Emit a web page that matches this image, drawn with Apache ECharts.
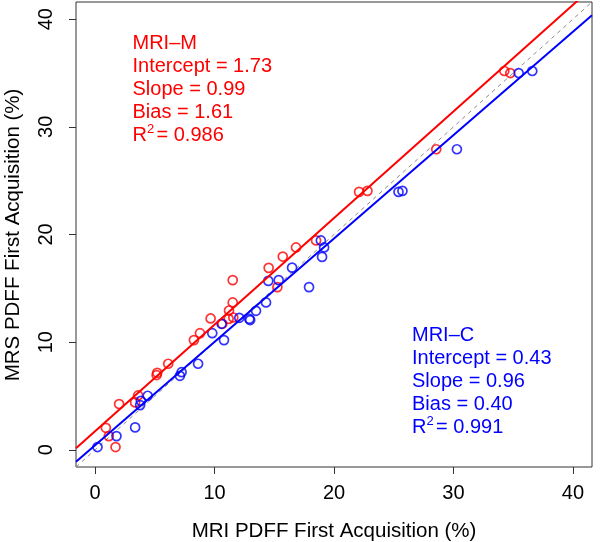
<!DOCTYPE html>
<html>
<head>
<meta charset="utf-8">
<script src="https://cdn.jsdelivr.net/npm/echarts@6/dist/echarts.min.js"></script>
<style>
html,body{margin:0;padding:0;background:#fff;}
#chart{width:600px;height:542px;}
</style>
</head>
<body>
<div id="chart"></div>
<script>
// MRI-M (red): MRI PDFF (x) vs MRS PDFF (y)
const mriM_x = [0.90, 1.15, 1.71, 2.01, 3.35, 3.60, 5.15, 5.20, 6.12, 8.27, 8.78, 9.67, 10.65, 11.18, 11.57, 11.21, 11.52, 11.52, 14.53, 15.26, 15.71, 16.82, 18.50, 22.10, 22.80, 28.56, 34.26, 34.76];
const mriM_y = [2.04, 1.27, 0.25, 4.25, 4.40, 5.05, 6.94, 7.15, 7.99, 10.19, 10.83, 12.20, 11.70, 12.16, 12.29, 12.94, 13.69, 15.76, 16.90, 15.11, 17.95, 18.80, 19.45, 23.96, 24.05, 27.92, 35.19, 35.00];
// MRI-C (blue)
const mriC_x = [0.20, 1.79, 3.35, 3.77, 3.83, 4.40, 7.10, 7.24, 8.62, 10.79, 9.81, 10.59, 12.07, 12.91, 12.98, 13.47, 14.31, 14.50, 15.37, 17.91, 16.49, 19.00, 19.17, 18.90, 25.40, 25.73, 30.29, 35.46, 36.60];
const mriC_y = [0.25, 1.27, 2.08, 4.15, 4.55, 5.02, 6.87, 7.21, 7.99, 10.19, 10.83, 11.70, 12.26, 12.16, 12.05, 12.91, 13.69, 15.69, 15.76, 15.11, 16.92, 17.92, 18.80, 19.45, 23.96, 24.05, 27.92, 35.00, 35.19];

const fitNames = ['MRI\u2013M', 'MRI\u2013C'];
const fitIntercept = [1.73, 0.43];
const fitSlope = [0.99, 0.96];
const fitBias = ['1.61', '0.40'];
const fitR2 = ['0.986', '0.991'];
const fitInterceptLabel = ['1.73', '0.43'];
const fitSlopeLabel = ['0.99', '0.96'];

const tickValues = [0, 10, 20, 30, 40];
const axisMin = -1.6, axisMax = 41.6;

const xTitle = 'MRI PDFF First Acquisition (%)';
const yTitle = 'MRS PDFF First Acquisition (%)';

const FONT = '"Liberation Sans", Arial, Helvetica, sans-serif';
const RED = '#ff0000', BLUE = '#0000ff';

function zip(xs, ys) { return xs.map((x, i) => [x, ys[i]]); }
function fitLine(a, b) { return [[axisMin, a + b * axisMin], [axisMax, a + b * axisMax]]; }

const chart = echarts.init(document.getElementById('chart'), null, {renderer: 'canvas'});

function annot(x, yStart, color, idx) {
  const dy = 23;
  const els = [];
  const f = '20px ' + FONT;
  const lines = [fitNames[idx], 'Intercept = ' + fitInterceptLabel[idx], 'Slope = ' + fitSlopeLabel[idx], 'Bias = ' + fitBias[idx]];
  lines.forEach((t, i) => {
    els.push({type: 'text', x: x, y: yStart + dy * i, style: {text: t, fill: color, font: f, align: 'left', verticalAlign: 'middle'}});
  });
  const yR = yStart + dy * 4;
  els.push({type: 'text', x: x, y: yR, style: {text: 'R', fill: color, font: f, align: 'left', verticalAlign: 'middle'}});
  els.push({type: 'text', x: x + 14.5, y: yR - 6, style: {text: '2', fill: color, font: '13px ' + FONT, align: 'left', verticalAlign: 'middle'}});
  els.push({type: 'text', x: x + 24, y: yR, style: {text: '= ' + fitR2[idx], fill: color, font: f, align: 'left', verticalAlign: 'middle'}});
  return els;
}

const option = {
  backgroundColor: '#fff',
  animation: false,
  grid: {left: 76, right: 8, top: 2, bottom: 75, show: true, borderColor: '#333', borderWidth: 1, backgroundColor: 'transparent'},
  xAxis: {
    type: 'value', min: axisMin, max: axisMax, position: 'bottom',
    axisLine: {show: false, onZero: false},
    splitLine: {show: false},
    axisTick: {show: true, inside: false, length: 7, lineStyle: {color: '#333', width: 1}, customValues: tickValues},
    axisLabel: {show: true, margin: 16, color: '#000', fontSize: 20, fontFamily: FONT, customValues: tickValues}
  },
  yAxis: {
    type: 'value', min: axisMin, max: axisMax, position: 'left',
    axisLine: {show: false, onZero: false},
    splitLine: {show: false},
    axisTick: {show: true, inside: false, length: 7, lineStyle: {color: '#333', width: 1}, customValues: tickValues},
    axisLabel: {show: true, margin: 20, rotate: 90, color: '#000', fontSize: 20, fontFamily: FONT, customValues: tickValues}
  },
  series: [
    {type: 'line', data: fitLine(0, 1), symbol: 'none', clip: true, silent: true,
     lineStyle: {color: '#8a8a8a', width: 1, type: [4, 4]}, z: 1},
    {type: 'scatter', data: zip(mriM_x, mriM_y), symbol: 'circle', symbolSize: 9,
     itemStyle: {color: 'rgba(0,0,0,0)', borderColor: RED, borderWidth: 1.7}, z: 2},
    {type: 'scatter', data: zip(mriC_x, mriC_y), symbol: 'circle', symbolSize: 9,
     itemStyle: {color: 'rgba(0,0,0,0)', borderColor: BLUE, borderWidth: 1.7}, z: 2},
    {type: 'line', data: fitLine(fitIntercept[0], fitSlope[0]), symbol: 'none', clip: true, silent: true,
     lineStyle: {color: RED, width: 2}, z: 3},
    {type: 'line', data: fitLine(fitIntercept[1], fitSlope[1]), symbol: 'none', clip: true, silent: true,
     lineStyle: {color: BLUE, width: 2}, z: 3}
  ],
  graphic: [
    {type: 'text', x: 334, y: 531, style: {text: xTitle, fill: '#000', font: '20.5px ' + FONT, align: 'center', verticalAlign: 'middle'}},
    {type: 'text', x: 13, y: 235, rotation: Math.PI / 2, style: {text: yTitle, fill: '#000', font: '20.5px ' + FONT, align: 'center', verticalAlign: 'middle'}},
    ...annot(132.5, 43, RED, 0),
    ...annot(412, 335, BLUE, 1)
  ]
};
chart.setOption(option);
</script>
</body>
</html>
